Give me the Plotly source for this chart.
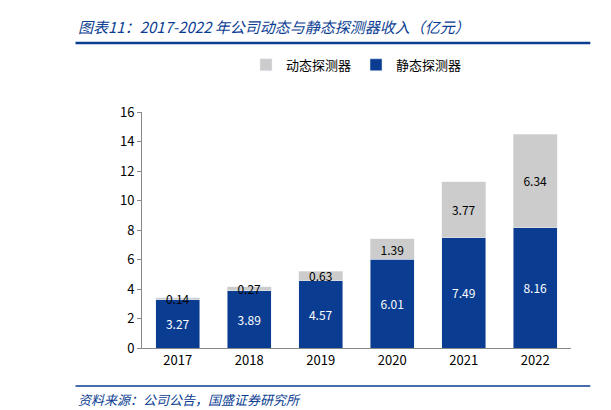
import plotly.graph_objects as go

years = ["2017", "2018", "2019", "2020", "2021", "2022"]
static_rev = [3.27, 3.89, 4.57, 6.01, 7.49, 8.16]
dynamic_rev = [0.14, 0.27, 0.63, 1.39, 3.77, 6.34]

FONT = "Noto Sans CJK SC"
BLUE = "#0a3d91"
GREY = "#cccccc"

fig = go.Figure()
fig.add_trace(go.Bar(
    x=years, y=static_rev, name="静态探测器", marker_color=BLUE,
    text=[f"{v:.2f}" for v in static_rev], textposition="inside",
    insidetextanchor="middle", constraintext="none",
    textfont=dict(color="white", size=12, family=FONT),
))
fig.add_trace(go.Bar(
    x=years, y=dynamic_rev, name="动态探测器", marker_color=GREY,
    text=[f"{v:.2f}" for v in dynamic_rev], textposition="inside",
    insidetextanchor="middle", constraintext="none",
    textfont=dict(color="black", size=12, family=FONT),
))

fig.update_layout(
    barmode="stack", bargap=0.38,
    width=611, height=410,
    plot_bgcolor="white", paper_bgcolor="white",
    font=dict(family=FONT, size=13, color="black"),
    margin=dict(l=134, r=48, t=104, b=70),
    legend=dict(orientation="h", x=0.5, xanchor="center", y=1.2, yanchor="middle",
                traceorder="reversed", font=dict(size=13)),
    yaxis=dict(range=[0, 16], dtick=2, showgrid=False, ticks="outside",
               ticklen=4, showline=True, linecolor="#888", tickcolor="#888"),
    xaxis=dict(showline=True, linecolor="#888"),
)
fig.add_annotation(text="<i>图表11：2017-2022 年公司动态与静态探测器收入（亿元）</i>",
                   xref="paper", yref="paper", x=-0.155, y=1.0, yshift=86,
                   xanchor="left", yanchor="middle", showarrow=False,
                   font=dict(size=15, color=BLUE, family=FONT))
fig.add_annotation(text="<i>资料来源：公司公告，国盛证券研究所</i>",
                   xref="paper", yref="paper", x=-0.155, y=0, yshift=-51,
                   xanchor="left", yanchor="middle", showarrow=False,
                   font=dict(size=13, color=BLUE, family=FONT))
fig.add_shape(type="line", xref="paper", yref="paper", x0=-0.155, x1=1.045,
              y0=1.292, y1=1.292, line=dict(color=BLUE, width=2.5))
fig.add_shape(type="line", xref="paper", yref="paper", x0=-0.155, x1=1.045,
              y0=-0.161, y1=-0.161, line=dict(color=BLUE, width=1.5))

fig.write_html("out.html")
